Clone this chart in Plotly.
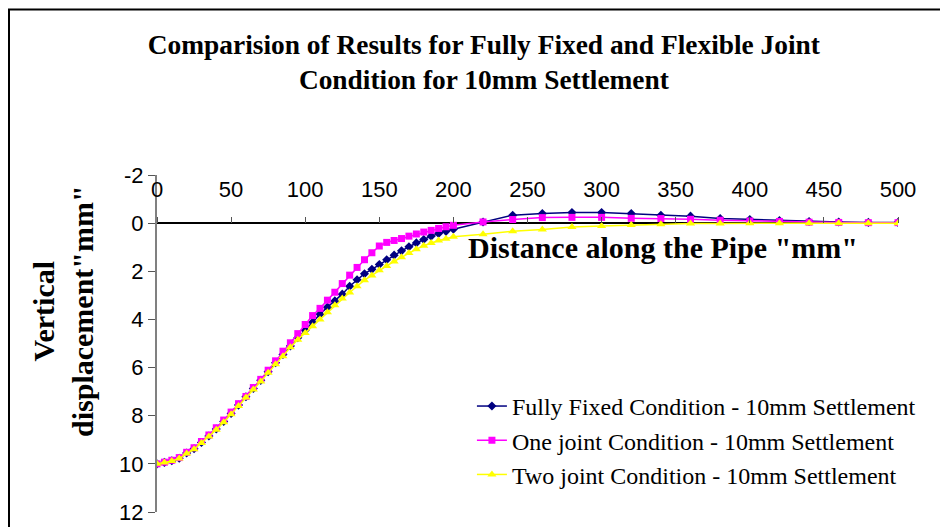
import plotly.graph_objects as go

distance = [0, 5, 10, 15, 20, 25, 30, 35, 40, 45, 50, 55, 60, 65, 70, 75, 80, 85, 90, 95,
            100, 105, 110, 115, 120, 125, 130, 135, 140, 145, 150, 155, 160, 165, 170, 175,
            180, 185, 190, 195, 200, 220, 240, 260, 280, 300, 320, 340, 360, 380, 400, 420,
            440, 460, 480, 500]

fully_fixed = [10.00, 9.94, 9.87, 9.77, 9.55, 9.37, 9.11, 8.84, 8.55, 8.24, 7.91, 7.56, 7.21,
               6.87, 6.53, 6.17, 5.80, 5.46, 5.10, 4.76, 4.45, 4.12, 3.78, 3.49, 3.23, 2.95,
               2.62, 2.35, 2.10, 1.92, 1.72, 1.52, 1.33, 1.15, 0.98, 0.82, 0.68, 0.54, 0.43,
               0.34, 0.25, -0.05, -0.33, -0.40, -0.44, -0.44, -0.40, -0.33, -0.29, -0.19,
               -0.15, -0.11, -0.07, -0.05, -0.03, -0.03]

one_joint = [10.00, 9.93, 9.85, 9.74, 9.52, 9.33, 9.07, 8.80, 8.50, 8.18, 7.85, 7.50, 7.20,
             6.83, 6.49, 6.11, 5.72, 5.32, 4.97, 4.59, 4.21, 3.84, 3.54, 3.20, 2.87, 2.51,
             2.16, 1.84, 1.52, 1.23, 0.95, 0.80, 0.72, 0.64, 0.54, 0.45, 0.37, 0.30, 0.22,
             0.15, 0.09, -0.05, -0.15, -0.23, -0.24, -0.24, -0.20, -0.19, -0.16, -0.12,
             -0.09, -0.07, -0.04, -0.03, -0.02, -0.02]

two_joint = [10.00, 9.94, 9.88, 9.78, 9.57, 9.39, 9.13, 8.86, 8.58, 8.27, 7.94, 7.60, 7.24,
             6.91, 6.58, 6.22, 5.86, 5.53, 5.16, 4.84, 4.56, 4.28, 4.00, 3.70, 3.41, 3.13,
             2.88, 2.62, 2.37, 2.17, 1.96, 1.78, 1.59, 1.42, 1.24, 1.08, 0.94, 0.82, 0.72,
             0.65, 0.57, 0.46, 0.34, 0.26, 0.16, 0.12, 0.08, 0.05, 0.02, 0.01, 0.00, 0.00,
             0.00, 0.00, 0.00, 0.00]

series_names = ["Fully Fixed Condition - 10mm Settlement",
                "One joint Condition - 10mm Settlement",
                "Two joint Condition - 10mm Settlement"]

x_ticks = [0, 50, 100, 150, 200, 250, 300, 350, 400, 450, 500]
y_ticks = [-2, 0, 2, 4, 6, 8, 10, 12]
y_tick_text = ["-2", "0", "2", "4", "6", "8", "10", "12"]
y_min, y_max = -2, 12

fig = go.Figure()
fig.add_trace(go.Scatter(x=distance, y=fully_fixed, name=series_names[0], mode="lines+markers",
                         line=dict(color="#000080", width=1.5),
                         marker=dict(symbol="diamond", size=7, color="#000080")))
fig.add_trace(go.Scatter(x=distance, y=one_joint, name=series_names[1], mode="lines+markers",
                         line=dict(color="#FF00FF", width=1.5),
                         marker=dict(symbol="square", size=7, color="#FF00FF")))
fig.add_trace(go.Scatter(x=distance, y=two_joint, name=series_names[2], mode="lines+markers",
                         line=dict(color="#FFFF00", width=1.5),
                         marker=dict(symbol="triangle-up", size=8, color="#FFFF00")))

zero_pos = (y_max - 0) / (y_max - y_min)

fig.update_layout(
    width=948, height=527,
    margin=dict(l=149, r=58, t=167, b=23, autoexpand=False),
    paper_bgcolor="white", plot_bgcolor="white",
    font=dict(family="Liberation Sans, Arial", color="black"),
    title=dict(text="<b>Comparision of Results for Fully Fixed and Flexible Joint<br>Condition for 10mm Settlement</b>",
               x=0.502, xanchor="center", y=0.913, yanchor="middle",
               font=dict(family="Liberation Serif, Times New Roman", size=27.4, color="black")),
    xaxis=dict(range=[0, 500], tickvals=x_ticks, side="top", anchor="free", position=zero_pos,
               ticks="outside", ticklen=6, tickcolor="#555555", showline=False, zeroline=False,
               showgrid=False, ticklabelstandoff=11, automargin=False,
               tickfont=dict(family="Liberation Sans, Arial", size=22, color="black")),
    yaxis=dict(range=[y_max, y_min], tickvals=y_ticks, ticktext=y_tick_text, ticks="outside",
               ticklen=7, tickcolor="#555555", showline=True, linecolor="#808080", linewidth=2,
               zeroline=True, zerolinecolor="black", zerolinewidth=1.5, showgrid=False,
               automargin=False,
               tickfont=dict(family="Liberation Sans, Arial", size=22, color="black")),
    legend=dict(x=0.425, y=0.38, xanchor="left", yanchor="top", bgcolor="rgba(0,0,0,0)",
                font=dict(family="Liberation Serif, Times New Roman", size=24, color="black"),
                tracegroupgap=0, itemwidth=30),
    showlegend=True,
)

fig.add_annotation(text="<b>Distance along the Pipe \"mm\"</b>", xref="paper", yref="paper",
                   x=(663 - 157) / 741, y=(512 - 247) / 337, xanchor="center", yanchor="middle",
                   showarrow=False,
                   font=dict(family="Liberation Serif, Times New Roman", size=30, color="black"))
fig.add_annotation(text="<b>Vertical<br>displacement\"mm\"</b>", xref="paper", yref="paper",
                   x=(63 - 157) / 741, y=(512 - 311) / 337, xanchor="center", yanchor="middle",
                   showarrow=False, textangle=-90,
                   font=dict(family="Liberation Serif, Times New Roman", size=30, color="black"))

fig.add_shape(type="rect", xref="paper", yref="paper",
              x0=(9 - 157) / 741, x1=1.3, y0=-0.3, y1=(512 - 9.5) / 337,
              line=dict(color="black", width=2), fillcolor="rgba(0,0,0,0)", layer="below")

fig.write_html("out.html")
